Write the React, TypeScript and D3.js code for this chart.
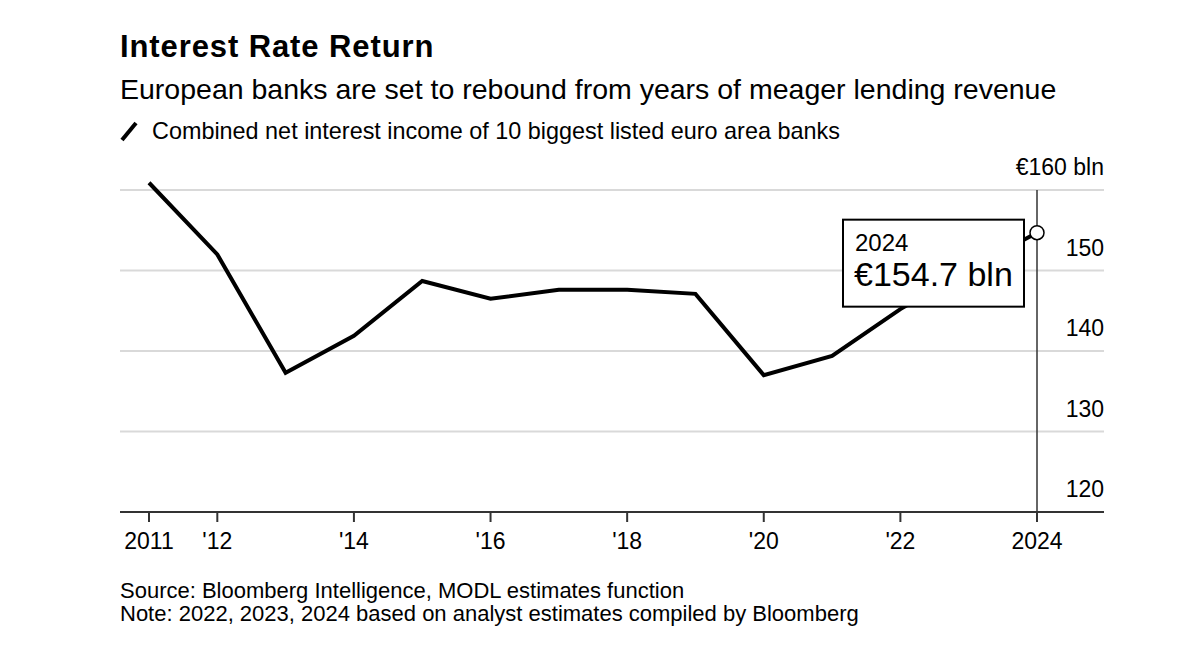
import React from "react";
import * as d3 from "d3";

const years = [2011, 2012, 2013, 2014, 2015, 2016, 2017, 2018, 2019, 2020, 2021, 2022, 2023, 2024];
const income = [160.9, 152.0, 137.3, 141.9, 148.7, 146.5, 147.6, 147.6, 147.1, 137.0, 139.4, 145.2, 150.1, 154.7];
const yTicks = [120, 130, 140, 150, 160];
const xTicks = [2011, 2012, 2014, 2016, 2018, 2020, 2022, 2024];
const xTickLabels = ["2011", "'12", "'14", "'16", "'18", "'20", "'22", "2024"];

const title = "Interest Rate Return";
const subtitle = "European banks are set to rebound from years of meager lending revenue";
const legendLabel = "Combined net interest income of 10 biggest listed euro area banks";
const sourceLines = [
  "Source: Bloomberg Intelligence, MODL estimates function",
  "Note: 2022, 2023, 2024 based on analyst estimates compiled by Bloomberg",
];
const calloutYear = "2024";
const calloutValue = "€154.7 bln";

const W = 1200;
const H = 666;
const FONT = "'Liberation Sans', Arial, Helvetica, sans-serif";

export default function App() {
  const left = 120;
  const right = 1104;
  const x = d3.scaleLinear().domain([2011, 2024]).range([149, 1037]);
  const y = d3.scaleLinear().domain([120, 160]).range([512, 190]);
  const line = d3
    .line<number>()
    .x((_, i) => x(years[i]))
    .y((d) => y(d));

  const lastX = x(years[years.length - 1]);
  const lastY = y(income[income.length - 1]);
  const boxW = 181;
  const boxH = 87;
  const boxX = lastX - 13 - boxW;
  const boxY = lastY - 13;

  return (
    <div style={{ position: "absolute", left: 0, top: 0 }}>
      <svg width={W} height={H} style={{ display: "block", background: "#fff" }} fontFamily={FONT}>
        <text x={120} y={57} fontSize={31} fontWeight="bold" letterSpacing={0.9} fill="#000">
          {title}
        </text>
        <text x={120} y={99} fontSize={28.5} fill="#000">
          {subtitle}
        </text>
        <line x1={122} y1={140} x2={136} y2={123} stroke="#000" strokeWidth={4} strokeLinecap="butt" />
        <text x={152} y={139} fontSize={23.4} fill="#000">
          {legendLabel}
        </text>

        {/* gridlines */}
        {yTicks
          .filter((t) => t !== 120)
          .map((t) => (
            <line key={t} x1={left} x2={right} y1={y(t)} y2={y(t)} stroke="#d9d9d9" strokeWidth={2} />
          ))}
        {/* y labels */}
        {yTicks.map((t) => (
          <text key={t} x={right} y={y(t) - 15} fontSize={23} textAnchor="end" fill="#000">
            {t === 160 ? `€${t} bln` : `${t}`}
          </text>
        ))}

        {/* vertical marker line at latest year */}
        <line x1={lastX} x2={lastX} y1={y(160)} y2={522} stroke="#333" strokeWidth={1.5} />

        {/* x axis */}
        <line x1={left} x2={right} y1={y(120)} y2={y(120)} stroke="#333" strokeWidth={2} />
        {xTicks.map((t, i) => (
          <g key={t}>
            <line x1={x(t)} x2={x(t)} y1={y(120)} y2={y(120) + 10} stroke="#333" strokeWidth={2} />
            <text x={x(t)} y={549} fontSize={23} textAnchor="middle" fill="#000">
              {xTickLabels[i]}
            </text>
          </g>
        ))}

        {/* series */}
        <path d={line(income) || ""} fill="none" stroke="#000" strokeWidth={4} strokeLinejoin="miter" />

        {/* callout */}
        <rect x={boxX} y={boxY} width={boxW} height={boxH} fill="#fff" stroke="#000" strokeWidth={2} />
        <text x={boxX + 12} y={boxY + 31} fontSize={24} fill="#000">
          {calloutYear}
        </text>
        <text x={boxX + 11} y={boxY + 66} fontSize={34} fill="#000">
          {calloutValue}
        </text>
        <circle cx={lastX} cy={lastY} r={7} fill="#fff" stroke="#000" strokeWidth={1.5} />

        {sourceLines.map((s, i) => (
          <text key={i} x={120} y={598 + i * 23} fontSize={22} fill="#000">
            {s}
          </text>
        ))}
      </svg>
    </div>
  );
}
